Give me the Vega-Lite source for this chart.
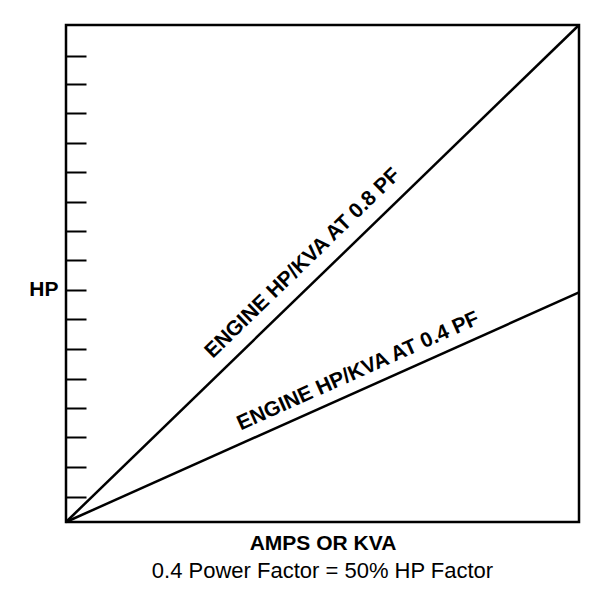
{
  "$schema": "https://vega.github.io/schema/vega-lite/v6.json",
  "width": 513,
  "height": 497,
  "autosize": "none",
  "padding": {"left": 66, "top": 25, "right": 28, "bottom": 68},
  "background": "white",
  "config": {
    "view": {"stroke": "black", "strokeWidth": 2.5},
    "font": "Liberation Sans"
  },
  "title": {
    "text": "0.4 Power Factor = 50% HP Factor",
    "orient": "bottom",
    "anchor": "middle",
    "fontSize": 22,
    "fontWeight": "normal",
    "font": "Liberation Sans",
    "color": "black",
    "offset": 8
  },
  "datasets": {
    "lines": [
      {"series": "0.8 PF", "kva": 0, "hp": 0},
      {"series": "0.8 PF", "kva": 1, "hp": 1},
      {"series": "0.4 PF", "kva": 0, "hp": 0},
      {"series": "0.4 PF", "kva": 1, "hp": 0.462}
    ],
    "label08": [{"kva": 0.49, "hp": 0.49, "label": "ENGINE HP/KVA AT 0.8 PF"}],
    "label04": [{"kva": 0.584, "hp": 0.27, "label": "ENGINE HP/KVA AT 0.4 PF"}]
  },
  "layer": [
    {
      "data": {"name": "lines"},
      "mark": {"type": "line", "color": "black", "strokeWidth": 2.5, "clip": false},
      "encoding": {
        "x": {
          "field": "kva",
          "type": "quantitative",
          "scale": {"domain": [0, 1], "nice": false, "zero": false},
          "axis": {
            "title": "AMPS OR KVA",
            "ticks": false,
            "labels": false,
            "domain": false,
            "grid": false,
            "titleFontSize": 21,
            "titleFontWeight": "bold",
            "titleColor": "black",
            "titleFont": "Liberation Sans",
            "titlePadding": 10
          }
        },
        "y": {
          "field": "hp",
          "type": "quantitative",
          "scale": {"domain": [0, 1], "nice": false, "zero": false},
          "axis": {
            "title": null,
            "values": [0.051, 0.111, 0.171, 0.229, 0.288, 0.348, 0.408, 0.467, 0.527, 0.586, 0.644, 0.704, 0.763, 0.823, 0.882, 0.938],
            "tickCount": 40,
            "tickSize": -20,
            "tickWidth": 2,
            "tickColor": "black",
            "domain": false,
            "grid": false,
            "labelOverlap": false,
            "labelExpr": "datum.value == 0.467 ? 'HP' : ''",
            "labelFontSize": 21,
            "labelFontWeight": "bold",
            "labelColor": "black",
            "labelFont": "Liberation Sans",
            "labelPadding": 28
          }
        },
        "detail": {"field": "series", "type": "nominal"}
      }
    },
    {
      "data": {"name": "label08"},
      "mark": {"type": "text", "angle": -44.1, "align": "center", "baseline": "alphabetic", "dy": -15, "fontSize": 21, "fontWeight": "bold", "font": "Liberation Sans", "color": "black"},
      "encoding": {
        "x": {"field": "kva", "type": "quantitative"},
        "y": {"field": "hp", "type": "quantitative"},
        "text": {"field": "label"}
      }
    },
    {
      "data": {"name": "label04"},
      "mark": {"type": "text", "angle": -24.1, "align": "center", "baseline": "alphabetic", "dy": -12, "fontSize": 21, "fontWeight": "bold", "font": "Liberation Sans", "color": "black"},
      "encoding": {
        "x": {"field": "kva", "type": "quantitative"},
        "y": {"field": "hp", "type": "quantitative"},
        "text": {"field": "label"}
      }
    }
  ]
}
